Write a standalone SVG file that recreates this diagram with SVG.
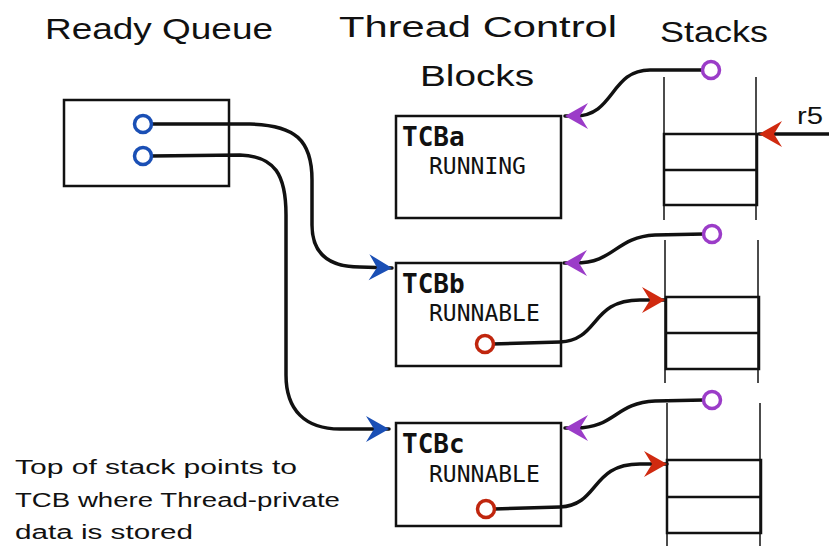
<svg xmlns="http://www.w3.org/2000/svg" width="829" height="546" viewBox="0 0 829 546">
<style>
.hand{font-family:"Liberation Sans","DejaVu Sans",sans-serif;fill:#111}
.box{fill:none;stroke:#111;stroke-width:2.5}
.rail{stroke:#111;stroke-width:1.5}
.conn{fill:none;stroke:#111;stroke-width:3.5;stroke-linecap:round}
.tname{font-family:"DejaVu Sans Mono",monospace;font-weight:bold;font-size:26px;fill:#111}
.tstate{font-family:"DejaVu Sans Mono",monospace;font-size:23px;fill:#111}
.pb{fill:#fff;stroke:#1a4fb5;stroke-width:3.5}
.pp{fill:#fff;stroke:#9b3cc8;stroke-width:3.5}
.pr{fill:#fff;stroke:#c0260e;stroke-width:3.5}
</style>
<defs>
<marker id="ab" markerUnits="userSpaceOnUse" viewBox="-26 -15 28 30" refX="0" refY="0" markerWidth="28" markerHeight="30" orient="auto"><path d="M0,0 L-23,-13 L-15,0 L-23,13 Z" fill="#1a4fb5"/></marker>
<marker id="ap" markerUnits="userSpaceOnUse" viewBox="-26 -15 28 30" refX="0" refY="0" markerWidth="28" markerHeight="30" orient="auto"><path d="M0,0 L-23,-13 L-15,0 L-23,13 Z" fill="#9b3cc8"/></marker>
<marker id="ar" markerUnits="userSpaceOnUse" viewBox="-26 -15 28 30" refX="0" refY="0" markerWidth="28" markerHeight="30" orient="auto"><path d="M0,0 L-23,-13 L-15,0 L-23,13 Z" fill="#d02a10"/></marker>
</defs>

<g id="headings">
<text class="hand" x="45" y="39" font-size="30" textLength="228" lengthAdjust="spacingAndGlyphs">Ready Queue</text>
<text class="hand" x="339" y="37" font-size="30" textLength="278" lengthAdjust="spacingAndGlyphs">Thread Control</text>
<text class="hand" x="420" y="86" font-size="30" textLength="114" lengthAdjust="spacingAndGlyphs">Blocks</text>
<text class="hand" x="660" y="42" font-size="30" textLength="108" lengthAdjust="spacingAndGlyphs">Stacks</text>
</g>

<g id="ready-queue">
<rect class="box" x="64" y="100" width="165" height="86"/>
</g>

<g id="tcba">
<rect class="box" x="396" y="116" width="165" height="102"/>
<text class="tname" x="402" y="146">TCBa</text>
<text class="tstate" x="429" y="174">RUNNING</text>
</g>
<g id="tcbb">
<rect class="box" x="396" y="263" width="165" height="103"/>
<text class="tname" x="402" y="293">TCBb</text>
<text class="tstate" x="429" y="321">RUNNABLE</text>
</g>
<g id="tcbc">
<rect class="box" x="396" y="423" width="165" height="103"/>
<text class="tname" x="402" y="453">TCBc</text>
<text class="tstate" x="429" y="482">RUNNABLE</text>
</g>

<g id="stack-a">
<line class="rail" x1="664" y1="77" x2="664" y2="220"/>
<line class="rail" x1="756" y1="77" x2="756" y2="220"/>
<rect class="box" x="664" y="134" width="93" height="71"/>
<line class="box" x1="664" y1="170" x2="757" y2="170"/>
</g>
<g id="stack-b">
<line class="rail" x1="665" y1="240" x2="665" y2="383"/>
<line class="rail" x1="758" y1="240" x2="758" y2="383"/>
<rect class="box" x="666" y="297" width="93" height="72"/>
<line class="box" x1="666" y1="333" x2="759" y2="333"/>
</g>
<g id="stack-c">
<line class="rail" x1="667" y1="403" x2="667" y2="546"/>
<line class="rail" x1="760" y1="403" x2="760" y2="546"/>
<rect class="box" x="667" y="460" width="94" height="73"/>
<line class="box" x1="667" y1="497" x2="761" y2="497"/>
</g>

<g id="r5-label">
<text class="hand" x="797" y="124" font-size="24" textLength="26" lengthAdjust="spacingAndGlyphs">r5</text>
</g>

<g id="note">
<text class="hand" x="15" y="474" font-size="20" textLength="282" lengthAdjust="spacingAndGlyphs">Top of stack points to</text>
<text class="hand" x="15" y="507" font-size="20" textLength="325" lengthAdjust="spacingAndGlyphs">TCB where Thread-private</text>
<text class="hand" x="15" y="539" font-size="20" textLength="178" lengthAdjust="spacingAndGlyphs">data is stored</text>
</g>

<g id="connectors">
<path class="conn" marker-end="url(#ab)" d="M151,124 L250,124 C295,125 312,140 312,180 L312,225 C312,255 330,267 360,267 L392,268"/>
<path class="conn" marker-end="url(#ab)" d="M151,156 L240,155 C275,156 286,175 286,215 L286,375 C286,410 305,429 340,429 L389,429"/>
<path class="conn" marker-end="url(#ap)" d="M703,70 L650,70 C610,70 615,116 575,116 L565,116"/>
<path class="conn" marker-end="url(#ap)" d="M704,234 L655,235 C615,237 615,263 575,263 L564,263"/>
<path class="conn" marker-end="url(#ap)" d="M704,400 L655,401 C615,403 615,428 576,428 L565,428"/>
<path class="conn" marker-end="url(#ar)" d="M492,344 L560,342 C600,340 590,300 640,300 L665,300"/>
<path class="conn" marker-end="url(#ar)" d="M494,509 L560,507 C600,505 590,464 640,464 L667,464"/>
<path class="conn" marker-end="url(#ar)" d="M829,134 L759,134"/>
</g>

<g id="pins">
<circle class="pb" cx="143" cy="124" r="8.5"/>
<circle class="pb" cx="143" cy="156" r="8.5"/>
<circle class="pp" cx="711" cy="70" r="8.5"/>
<circle class="pp" cx="712" cy="234" r="8.5"/>
<circle class="pp" cx="712" cy="400" r="8.5"/>
<circle class="pr" cx="485" cy="344" r="8.5"/>
<circle class="pr" cx="486" cy="509" r="8.5"/>
</g>
</svg>
